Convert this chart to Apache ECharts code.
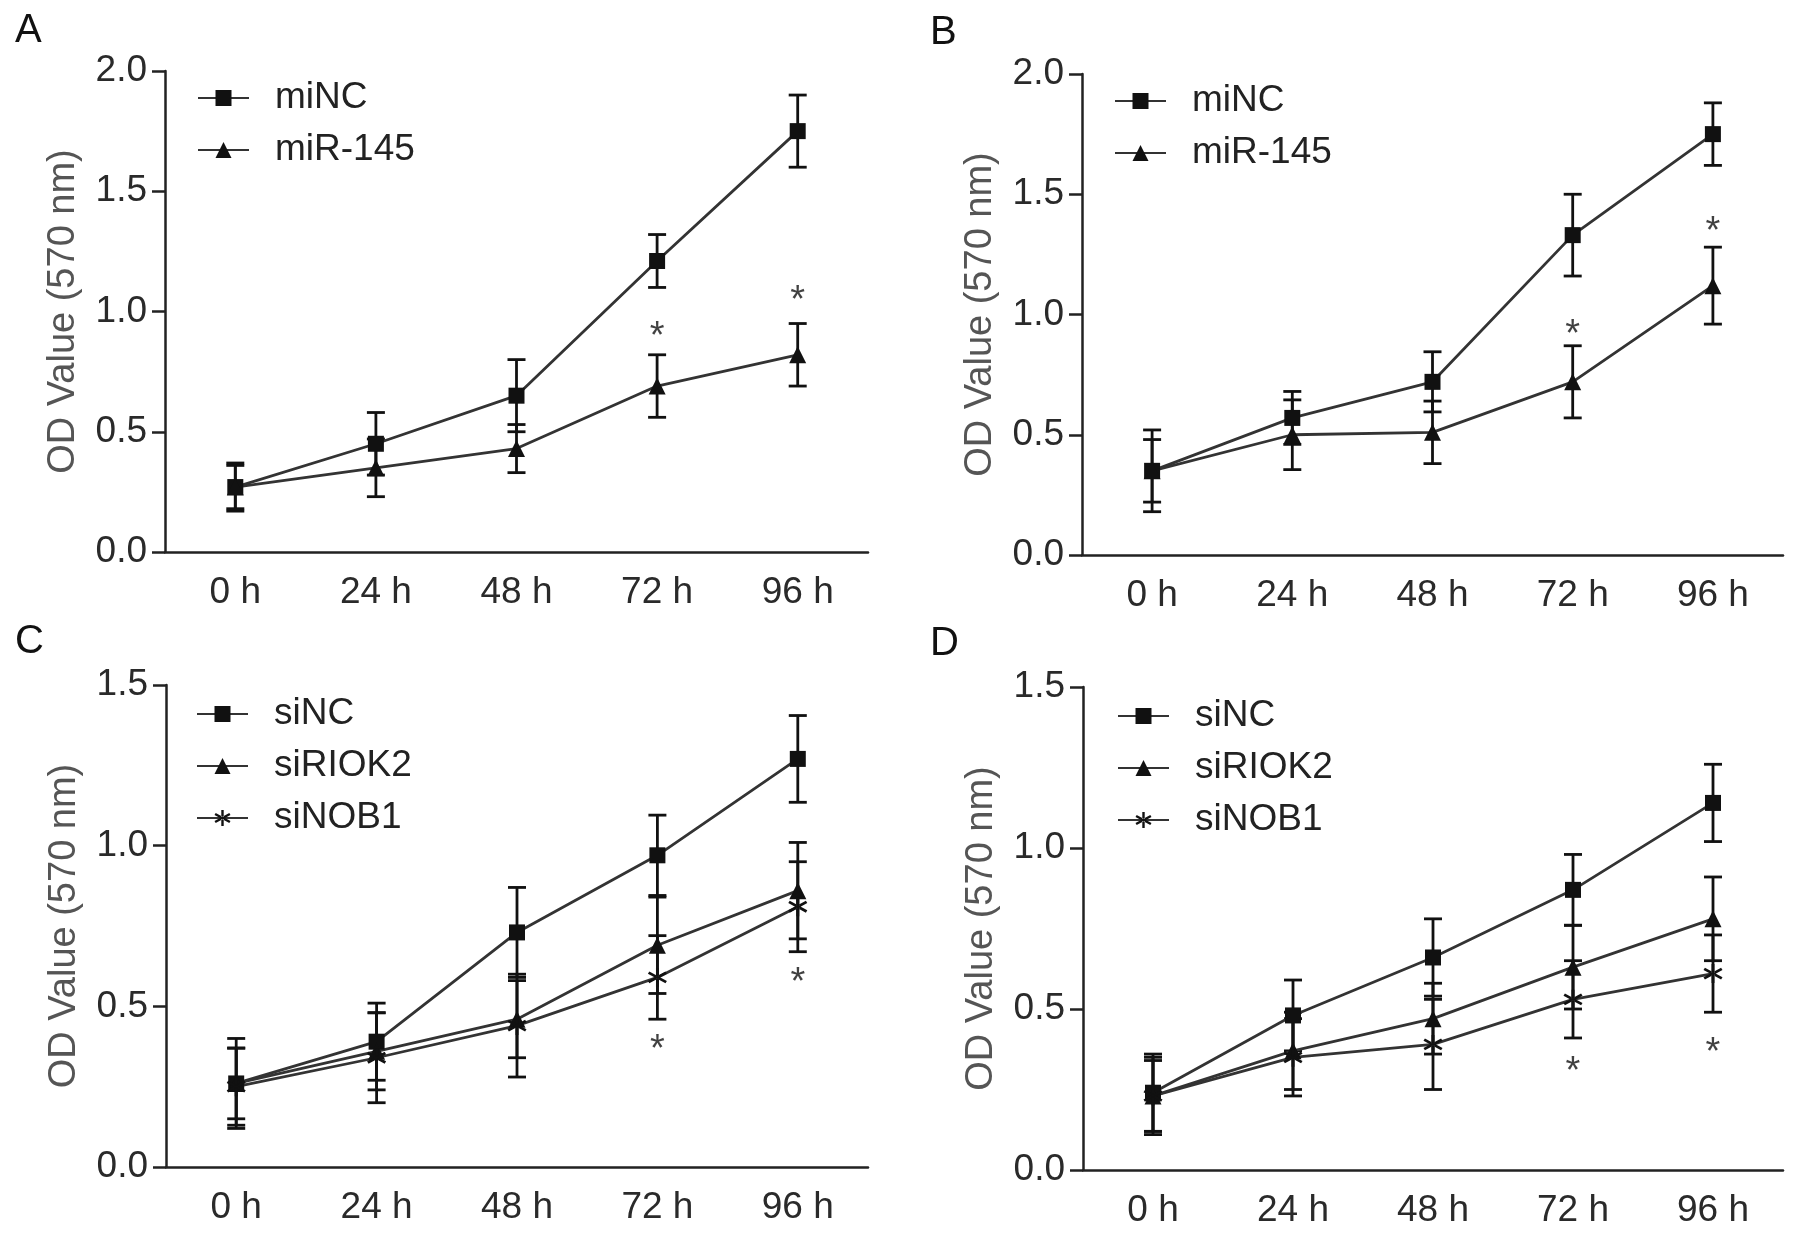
<!DOCTYPE html>
<html>
<head>
<meta charset="utf-8">
<script src="https://cdn.jsdelivr.net/npm/echarts@6/dist/echarts.min.js"></script>
<style>
html,body{margin:0;padding:0;background:#fff;}
#chart{width:1795px;height:1233px;}
</style>
</head>
<body>
<div id="chart"></div>
<script>
// ---------- data ----------
const categories = ['0 h', '24 h', '48 h', '72 h', '96 h'];

// Panel A
const aMiNC = [0.27, 0.45, 0.65, 1.21, 1.75];
const aMiNCsd = [0.10, 0.13, 0.15, 0.11, 0.15];
const aMiR145 = [0.27, 0.35, 0.43, 0.69, 0.82];
const aMiR145sd = [0.09, 0.12, 0.10, 0.13, 0.13];
const aSig = [null, null, null, 0.93, 1.08];

// Panel B
const bMiNC = [0.35, 0.57, 0.72, 1.33, 1.75];
const bMiNCsd = [0.17, 0.11, 0.125, 0.17, 0.13];
const bMiR145 = [0.35, 0.50, 0.51, 0.72, 1.12];
const bMiR145sd = [0.13, 0.145, 0.13, 0.15, 0.16];
const bSig = [null, null, null, 0.95, 1.38];

// Panel C
const cSiNC = [0.26, 0.39, 0.73, 0.97, 1.27];
const cSiNCsd = [0.14, 0.12, 0.14, 0.125, 0.135];
const cSiRIOK2 = [0.26, 0.36, 0.46, 0.69, 0.86];
const cSiRIOK2sd = [0.11, 0.12, 0.12, 0.15, 0.15];
const cSiNOB1 = [0.25, 0.34, 0.44, 0.59, 0.81];
const cSiNOB1sd = [0.12, 0.14, 0.16, 0.13, 0.14];
const cSig = [null, null, null, 0.39, 0.60];

// Panel D
const dSiNC = [0.24, 0.48, 0.66, 0.87, 1.14];
const dSiNCsd = [0.12, 0.11, 0.12, 0.11, 0.12];
const dSiRIOK2 = [0.23, 0.37, 0.47, 0.63, 0.78];
const dSiRIOK2sd = [0.11, 0.12, 0.11, 0.13, 0.13];
const dSiNOB1 = [0.23, 0.35, 0.39, 0.53, 0.61];
const dSiNOB1sd = [0.12, 0.12, 0.14, 0.12, 0.12];
const dSig = [null, null, null, 0.33, 0.39];

const yMaxAB = 2.0;
const yMaxCD = 1.5;
const yTitle = 'OD Value (570 nm)';
const panelLetters = ['A', 'B', 'C', 'D'];

// ---------- styling ----------
const FONT = 'Arial, "Liberation Sans", Helvetica, sans-serif';
const ASTERISK = 'path://M43 0L57 0L57 100L43 100Z M89.8 81.1L96.8 69L10.2 18.9L3.2 31Z M96.8 31L89.8 18.9L3.2 69L10.2 81.1Z';
const SYMBOLS = { square: 'rect', triangle: 'triangle', asterisk: ASTERISK };
const SYMSIZE = { square: 16, triangle: 17, asterisk: 19 };

const panels = [
  { grid: { left: 165, top: 71, width: 703, height: 481 }, legendPos: { left: 197, top: 78 }, yMax: yMaxAB,
    groups: [ { name: 'miNC', v: aMiNC, sd: aMiNCsd, sym: 'square' }, { name: 'miR-145', v: aMiR145, sd: aMiR145sd, sym: 'triangle' } ],
    sig: aSig, letter: { left: 10, top: 6 } },
  { grid: { left: 1082, top: 74, width: 701, height: 481 }, legendPos: { left: 1114, top: 81 }, yMax: yMaxAB,
    groups: [ { name: 'miNC', v: bMiNC, sd: bMiNCsd, sym: 'square' }, { name: 'miR-145', v: bMiR145, sd: bMiR145sd, sym: 'triangle' } ],
    sig: bSig, letter: { left: 925, top: 8 } },
  { grid: { left: 166, top: 685, width: 702, height: 482 }, legendPos: { left: 196, top: 694 }, yMax: yMaxCD,
    groups: [ { name: 'siNC', v: cSiNC, sd: cSiNCsd, sym: 'square' }, { name: 'siRIOK2', v: cSiRIOK2, sd: cSiRIOK2sd, sym: 'triangle' }, { name: 'siNOB1', v: cSiNOB1, sd: cSiNOB1sd, sym: 'asterisk' } ],
    sig: cSig, letter: { left: 10, top: 617 } },
  { grid: { left: 1083, top: 687, width: 700, height: 483 }, legendPos: { left: 1117, top: 696 }, yMax: yMaxCD,
    groups: [ { name: 'siNC', v: dSiNC, sd: dSiNCsd, sym: 'square' }, { name: 'siRIOK2', v: dSiRIOK2, sd: dSiRIOK2sd, sym: 'triangle' }, { name: 'siNOB1', v: dSiNOB1, sd: dSiNOB1sd, sym: 'asterisk' } ],
    sig: dSig, letter: { left: 925, top: 619 } }
];

function errRender(params, api) {
  const x = api.value(0), lo = api.value(1), hi = api.value(2);
  const pLo = api.coord([x, lo]), pHi = api.coord([x, hi]);
  const cw = 9;
  const style = { stroke: '#111', lineWidth: 2.8 };
  return { type: 'group', children: [
    { type: 'line', shape: { x1: pLo[0], y1: pLo[1], x2: pHi[0], y2: pHi[1] }, style: style },
    { type: 'line', shape: { x1: pLo[0] - cw, y1: pLo[1], x2: pLo[0] + cw, y2: pLo[1] }, style: style },
    { type: 'line', shape: { x1: pHi[0] - cw, y1: pHi[1], x2: pHi[0] + cw, y2: pHi[1] }, style: style }
  ] };
}

const option = { animation: false, backgroundColor: '#fff', grid: [], xAxis: [], yAxis: [], legend: [], title: [], series: [] };

panels.forEach(function (p, i) {
  option.grid.push(Object.assign({ containLabel: false }, p.grid));
  option.title.push({ text: panelLetters[i], left: p.letter.left, top: p.letter.top,
    textStyle: { fontFamily: FONT, fontSize: 40, fontWeight: 'normal', color: '#111' } });
  option.xAxis.push({
    type: 'category', gridIndex: i, data: categories, boundaryGap: true,
    axisLine: { lineStyle: { color: '#222', width: 2.5 } },
    axisTick: { alignWithLabel: true, length: 12, lineStyle: { color: '#222', width: 2.5 } },
    axisLabel: { fontFamily: FONT, fontSize: 37, color: '#2a2a2a', margin: 22 },
    splitLine: { show: false }
  });
  option.yAxis.push({
    type: 'value', gridIndex: i, min: 0, max: p.yMax, interval: 0.5,
    name: yTitle, nameLocation: 'middle', nameGap: 82,
    nameTextStyle: { fontFamily: FONT, fontSize: 38, color: '#555' },
    axisLine: { show: true, lineStyle: { color: '#222', width: 2.5 } },
    axisTick: { show: true, length: 13, lineStyle: { color: '#222', width: 2.5 } },
    axisLabel: { fontFamily: FONT, fontSize: 37, color: '#2a2a2a', margin: 18, formatter: function (v) { return v.toFixed(1); } },
    splitLine: { show: false }
  });
  option.legend.push({
    orient: 'vertical', left: p.legendPos.left, top: p.legendPos.top, padding: 0,
    itemWidth: 51, itemHeight: 20, itemGap: 12, selectedMode: false,
    data: p.groups.map(function (g) { return g.name; }),
    textStyle: { fontFamily: FONT, fontSize: 37, color: '#222', lineHeight: 40, padding: [0, 0, 0, 21] }
  });
  p.groups.forEach(function (g) {
    option.series.push({
      type: 'custom', name: g.name + ' SD', xAxisIndex: i, yAxisIndex: i, z: 2, silent: true,
      renderItem: errRender,
      data: g.v.map(function (v, j) { return [j, v - g.sd[j], v + g.sd[j]]; })
    });
  });
  p.groups.forEach(function (g) {
    option.series.push({
      type: 'line', name: g.name, xAxisIndex: i, yAxisIndex: i, z: 3,
      data: g.v, symbol: SYMBOLS[g.sym], symbolSize: SYMSIZE[g.sym], showAllSymbol: true,
      lineStyle: { color: '#333', width: 2.8 },
      itemStyle: { color: '#111', borderWidth: 0 }
    });
  });
  option.series.push({
    type: 'scatter', name: 'sig' + i, xAxisIndex: i, yAxisIndex: i, z: 4, silent: true,
    symbolSize: 1, itemStyle: { color: 'rgba(0,0,0,0)' },
    data: p.sig.map(function (v, j) { return v == null ? null : [j, v]; }).filter(function (d) { return d; }),
    label: { show: true, position: 'inside', formatter: '*', fontFamily: FONT, fontSize: 38, color: '#111', offset: [0, 9] }
  });
});

const chart = echarts.init(document.getElementById('chart'), null, { renderer: 'canvas' });
chart.setOption(option);
</script>
</body>
</html>
